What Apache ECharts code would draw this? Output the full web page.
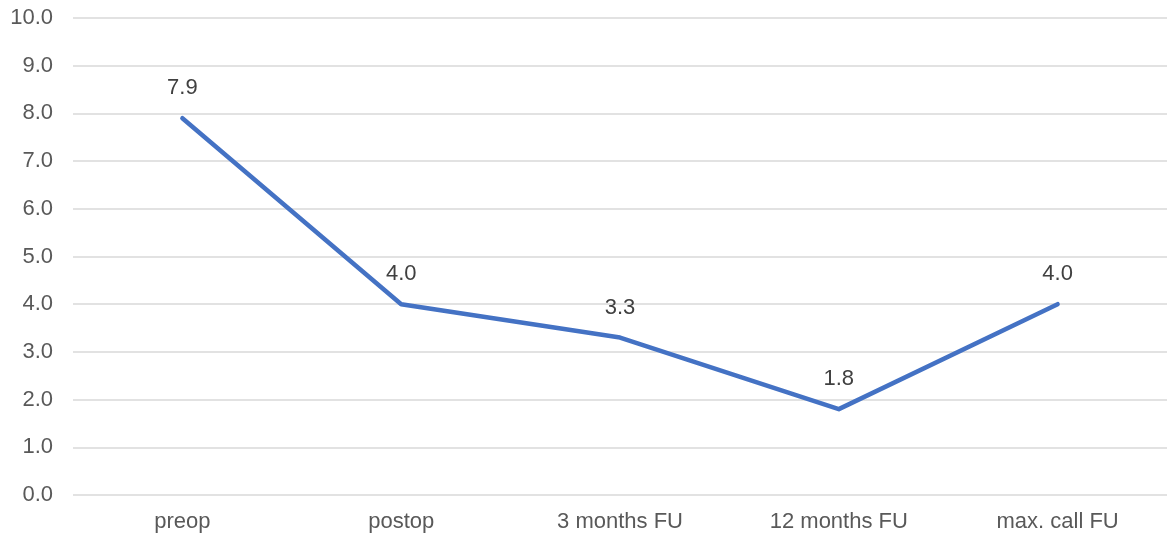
<!DOCTYPE html>
<html><head><meta charset="utf-8">
<script src="https://cdn.jsdelivr.net/npm/echarts@6/dist/echarts.min.js"></script>
<style>html,body{margin:0;padding:0;background:#fff}#c{width:1167px;height:537px}</style>
</head><body><div id="c"></div>
<script>
const categories = ['preop', 'postop', '3 months FU', '12 months FU', 'max. call FU'];
const values = [7.9, 4.0, 3.3, 1.8, 4.0];
const FONT = 'Liberation Sans, Arial, sans-serif';
const chart = echarts.init(document.getElementById('c'), null, {renderer: 'canvas'});
chart.setOption({
  animation: false,
  grid: {left: 73, right: 0, top: 18, bottom: 42, containLabel: false},
  xAxis: {
    type: 'category', data: categories, boundaryGap: true,
    axisLine: {show: false}, axisTick: {show: false},
    axisLabel: {color: '#595959', fontSize: 22, fontFamily: FONT, margin: 16}
  },
  yAxis: {
    type: 'value', min: 0, max: 10, interval: 1,
    axisLine: {show: false}, axisTick: {show: false},
    axisLabel: {color: '#595959', fontSize: 22, fontFamily: FONT, margin: 20,
      formatter: v => v.toFixed(1)},
    splitLine: {lineStyle: {color: '#d9d9d9', width: 1.5}}
  },
  series: [{
    type: 'line', data: values, symbol: 'circle', symbolSize: 2, showSymbol: true,
    itemStyle: {color: 'rgba(68,114,196,0)', borderWidth: 0},
    lineStyle: {color: '#4472C4', width: 4.5, cap: 'round', join: 'round'},
    label: {show: true, position: 'top', distance: 18, color: '#404040', fontSize: 22,
      fontFamily: FONT, formatter: p => p.value.toFixed(1)}
  }]
});
</script></body></html>
